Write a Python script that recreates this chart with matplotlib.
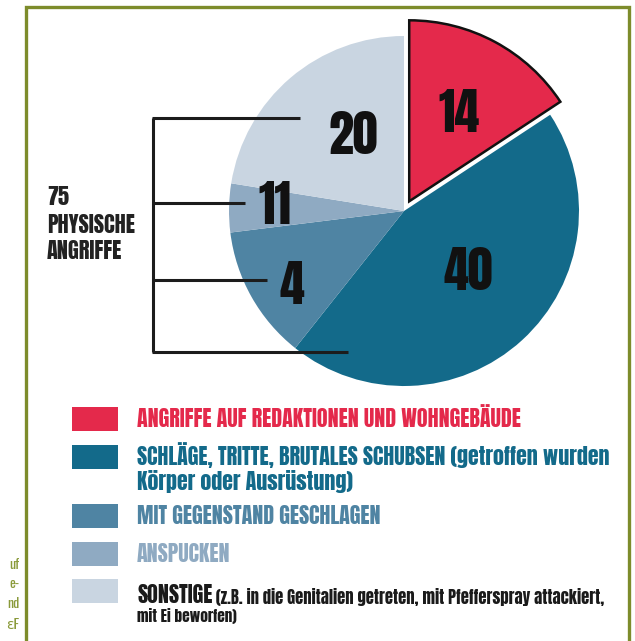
import matplotlib
matplotlib.use("Agg")
import matplotlib.pyplot as plt
from matplotlib.patches import Rectangle

plt.rcParams["font.family"] = ["Anton", "DejaVu Sans"]

# data
categories = [
    "ANGRIFFE AUF REDAKTIONEN UND WOHNGEBÄUDE",
    "SCHLÄGE, TRITTE, BRUTALES SCHUBSEN (getroffen wurden\nKörper oder Ausrüstung)",
    "MIT GEGENSTAND GESCHLAGEN",
    "ANSPUCKEN",
    "SONSTIGE",
]
counts = [14, 40, 4, 11, 20]          # numbers printed in the chart
wedge_sizes = [14, 40, 11, 4, 20]     # wedge sizes as drawn in the original
colors = ["#e4294b", "#136a8a", "#4f84a3", "#8faac2", "#c9d5e1"]
text_colors = ["#e4294b", "#136a8a", "#4f84a3", "#8faac2", "#1a1a1a"]
total_label = ["75", "PHYSISCHE", "ANGRIFFE"]
sonstige_note = "(z.B. in die Genitalien getreten, mit Pfefferspray attackiert,"
sonstige_note2 = "mit Ei beworfen)"
side_fragments = ["uf", "e-", "nd", "ɛF"]

W, H = 635, 641
fig = plt.figure(figsize=(W / 100, H / 100), dpi=100)
ax = fig.add_axes([0, 0, 1, 1])


def Y(y):
    # image pixel row -> data y
    return H - y


# -------------------------------------------------
# Pie
# -------------------------------------------------
wedges, _ = ax.pie(
    wedge_sizes,
    colors=colors,
    startangle=90,
    counterclock=False,
    center=(404, Y(211)),
    radius=175,
    explode=[11, 0, 0, 0, 0],
    frame=True,
    wedgeprops=dict(linewidth=0),
)
wedges[0].set_radius(181)
wedges[0].set_edgecolor("#111111")
wedges[0].set_linewidth(1.8)
wedges[0].set_zorder(3)

value_pos = [(459, 111), (468, 268), (292, 283), (275, 202), (353, 132)]
for val, (x, y) in zip(counts, value_pos):
    ax.text(x, Y(y), str(val), ha="center", va="center_baseline",
            fontsize=36, color="#111111", zorder=5)

# -------------------------------------------------
# Bracket
# -------------------------------------------------
lc = "#1c1c1c"
ax.plot([153, 153], [Y(118), Y(352)], color=lc, lw=2.2, zorder=4,
        solid_capstyle="butt")
for y, x2 in [(118, 300), (203, 245), (280, 267), (352, 348)]:
    ax.plot([152, x2], [Y(y), Y(y)], color=lc, lw=2.2, zorder=4,
            solid_capstyle="butt")

for txt, yb in zip(total_label, [205, 233, 259]):
    ax.text(47, Y(yb), txt, ha="left", va="baseline", fontsize=16,
            color="#222222")

# -------------------------------------------------
# Legend
# -------------------------------------------------
box_tops = [407, 445, 504, 542, 579]
for i, (cat, top) in enumerate(zip(categories, box_tops)):
    ax.add_patch(Rectangle((72, Y(top + 24)), 46, 24, color=colors[i],
                           lw=0))
    if i < 4:
        for k, line in enumerate(cat.split("\n")):
            ax.text(137, Y(top + 20 + 25 * k), line, ha="left",
                    va="baseline", fontsize=15.8, color=text_colors[i])

t1 = ax.text(137, Y(603), categories[4], ha="left", va="baseline",
             fontsize=15.8, color=text_colors[4])
ax.annotate(" " + sonstige_note, xy=(1, 0), xycoords=t1,
            ha="left", va="bottom", fontsize=12, color="#1a1a1a")
ax.text(137, Y(622), sonstige_note2, ha="left", va="baseline",
        fontsize=11, color="#1a1a1a")

# cut-off column text on the left
for frag, y in zip(side_fragments, [569, 588, 608, 629]):
    ax.text(19, Y(y), frag, ha="right", va="baseline", fontsize=10,
            family=["Oswald", "DejaVu Sans"], color="#8a9a3a")

# frame
ax.add_patch(Rectangle((26, Y(660)), 603, 653, fill=False,
                       edgecolor="#7d8c2b", lw=2.4, zorder=6))

ax.set_xlim(0, W)
ax.set_ylim(0, H)
ax.set_aspect("auto")
ax.axis("off")

fig.savefig("out.png", dpi=100)
